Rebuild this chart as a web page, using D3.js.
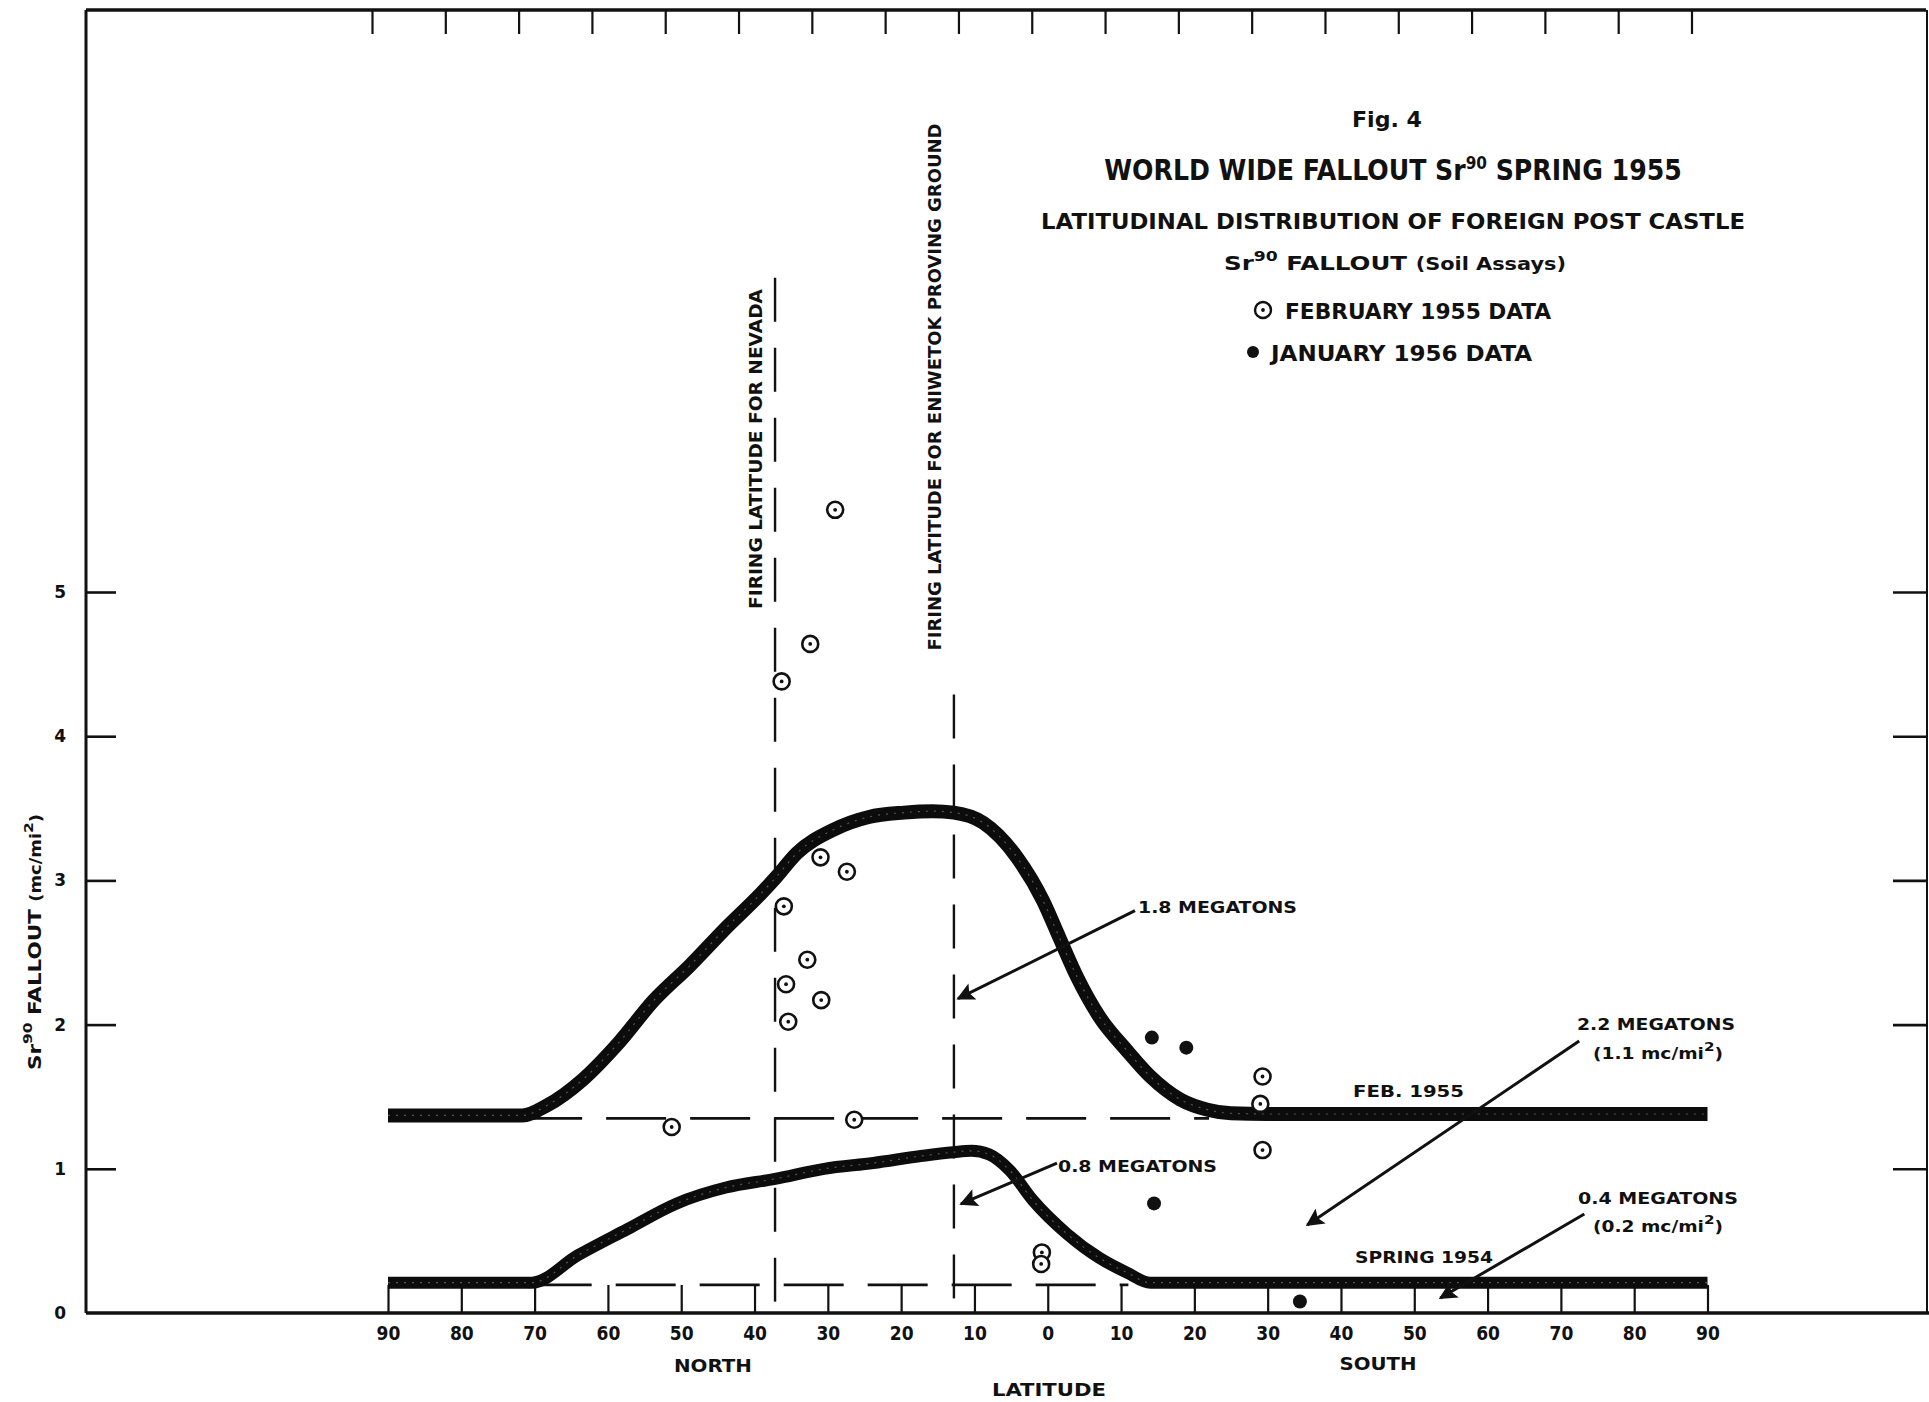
<!DOCTYPE html>
<html>
<head>
<meta charset="utf-8">
<script src="https://cdn.jsdelivr.net/npm/d3@7"></script>
<style>
body{margin:0;background:#fff}
svg{display:block}
text{font-family:"DejaVu Sans",sans-serif;font-weight:bold;fill:#111}
.narrow{font-family:"Liberation Sans Narrow","DejaVu Sans Condensed",sans-serif}
</style>
</head>
<body>
<div id="plot"></div>
<script>
/* latitude is signed: north positive, south negative */
var latTicks = [90,80,70,60,50,40,30,20,10,0,-10,-20,-30,-40,-50,-60,-70,-80,-90];
var valueTicks = [0,1,2,3,4,5];

// 1.8 megaton curve (Feb 1955)
var curve18Lat = [90,71.7,68.3,63.4,58.6,53.7,48.8,43.9,39.1,37.1,34.2,29.3,24.4,19.6,15.7,12.8,8.8,4.2,0.65,-1.7,-4.0,-7.1,-10.8,-14.0,-18.1,-21.8,-25.0,-30.0,-90];
var curve18Val = [1.37,1.37,1.44,1.62,1.87,2.17,2.41,2.67,2.91,3.02,3.19,3.35,3.44,3.47,3.48,3.47,3.40,3.16,2.86,2.59,2.33,2.05,1.82,1.64,1.48,1.41,1.385,1.38,1.38];

// 0.8 megaton curve (Spring 1954)
var curve08Lat = [90,70.4,64.1,57.4,50.6,43.9,37.2,30.5,23.8,17.1,12.9,10.4,8.0,5.2,2.0,-2.6,-7.1,-10.8,-14.0,-90];
var curve08Val = [0.21,0.21,0.40,0.58,0.76,0.87,0.93,1.00,1.04,1.09,1.115,1.125,1.10,0.99,0.78,0.55,0.38,0.28,0.21,0.21];

// soil assays
var feb55Lat = [29.0,32.4,36.3,31.0,27.4,36.0,32.8,35.7,30.9,35.4,51.3,26.4,0.8,0.9,-29.3,-29.0,-29.3];
var feb55Val = [5.57,4.64,4.38,3.16,3.06,2.82,2.45,2.28,2.17,2.02,1.29,1.34,0.42,0.34,1.64,1.45,1.13];
var jan56Lat = [-14.2,-18.9,-14.5,-34.4];
var jan56Val = [1.91,1.84,0.76,0.08];

// firing latitudes
var firingNames = ["FIRING LATITUDE FOR NEVADA","FIRING LATITUDE FOR ENIWETOK PROVING GROUND"];
var firingLat = [37.2,12.8];
var firingTop = [7.18,4.29];

// dashed baselines
var baseVal = [1.35,0.195];
var baseFrom = [71.7,70.4];
var baseTo = [-22.0,-11.0];

// arrows [fromLat, fromVal, toLat, toVal]
var arrowFromLat = [-11.9,-1.26,-72.5,-73.2];
var arrowFromVal = [2.79,1.04,1.886,0.687];
var arrowToLat = [12.25,11.84,-35.4,-53.55];
var arrowToVal = [2.18,0.756,0.61,0.104];

var W = 1929, H = 1402;
var axisX = 86, axisY = 1313;

var svg = d3.select('#plot').append('svg')
    .attr('width',W).attr('height',H);

var x = d3.scaleLinear().domain([90,-90]).range([388,1707.5]);
var y = d3.scaleLinear().domain([0,5]).range([1313,592]);

var ink = '#111';

// frame
svg.append('line').attr('x1',axisX).attr('y1',10).attr('x2',1926).attr('y2',10)
    .attr('stroke',ink).attr('stroke-width',3.5);
svg.append('line').attr('x1',axisX).attr('y1',10).attr('x2',axisX).attr('y2',axisY)
    .attr('stroke',ink).attr('stroke-width',3);
svg.append('line').attr('x1',1927).attr('y1',10).attr('x2',1927).attr('y2',axisY)
    .attr('stroke',ink).attr('stroke-width',2);
svg.append('line').attr('x1',axisX).attr('y1',axisY).attr('x2',W).attr('y2',axisY)
    .attr('stroke',ink).attr('stroke-width',3.5);

// top ticks (hanging down from frame)
var topAxis = svg.append('g').attr('transform','translate(-16,10)')
    .call(d3.axisTop(x).tickValues(latTicks).tickSize(-24).tickFormat(''));
topAxis.select('.domain').remove();
topAxis.selectAll('line').attr('stroke',ink).attr('stroke-width',2.2);

// bottom axis
var xAxis = svg.append('g').attr('transform','translate(0,'+axisY+')')
    .call(d3.axisBottom(x).tickValues(latTicks).tickSize(-28).tickPadding(14)
        .tickFormat(function(d){return Math.abs(d);}));
xAxis.select('.domain').remove();
xAxis.selectAll('line').attr('stroke',ink).attr('stroke-width',2.2);
xAxis.selectAll('text').attr('class','narrow').style('font-size','19px')
    .style('font-weight','bold').attr('fill',ink);

// left axis
var yAxis = svg.append('g').attr('transform','translate('+axisX+',0)')
    .call(d3.axisLeft(y).tickValues(valueTicks).tickSize(-30).tickPadding(20)
        .tickFormat(d3.format('d')));
yAxis.select('.domain').remove();
yAxis.selectAll('line').attr('stroke',ink).attr('stroke-width',2.6)
    .attr('x1',0);
yAxis.selectAll('line').filter(function(d){return d===0;}).remove();
yAxis.selectAll('text').style('font-size','17px').style('font-weight','bold')
    .style('font-family','DejaVu Sans').attr('fill',ink);

// right ticks
var rAxis = svg.append('g').attr('transform','translate(1927,0)')
    .call(d3.axisRight(y).tickValues(valueTicks.slice(1)).tickSize(-34).tickFormat(''));
rAxis.select('.domain').remove();
rAxis.selectAll('line').attr('stroke',ink).attr('stroke-width',2.6);

// firing latitude lines
firingLat.forEach(function(lat,i){
    svg.append('line')
        .attr('x1',x(lat)).attr('x2',x(lat))
        .attr('y1',y(firingTop[i])).attr('y2',axisY)
        .attr('stroke',ink).attr('stroke-width',2.4)
        .attr('stroke-dasharray','44,26');
});

// dashed baselines
baseVal.forEach(function(v,i){
    svg.append('line')
        .attr('x1',x(baseFrom[i])).attr('x2',x(baseTo[i]))
        .attr('y1',y(v)).attr('y2',y(v))
        .attr('stroke',ink).attr('stroke-width',2.6)
        .attr('stroke-dasharray','60,24');
});

// bands
var line = d3.line()
    .x(function(d){return x(d[0]);})
    .y(function(d){return y(d[1]);})
    .curve(d3.curveMonotoneX);

[[curve18Lat,curve18Val,14],[curve08Lat,curve08Val,12]].forEach(function(c){
    var pts = d3.zip(c[0],c[1]);
    svg.append('path').attr('d',line(pts)).attr('fill','none')
        .attr('stroke','#0c0c0c').attr('stroke-width',c[2])
        .attr('stroke-linejoin','round');
    svg.append('path').attr('d',line(pts)).attr('fill','none')
        .attr('stroke','#fff').attr('stroke-opacity',0.3)
        .attr('stroke-width',1.2).attr('stroke-dasharray','2,6');
});

// arrows
svg.append('defs').append('marker')
    .attr('id','head').attr('viewBox','0 0 10 10')
    .attr('refX',9).attr('refY',5)
    .attr('markerWidth',7).attr('markerHeight',6)
    .attr('markerUnits','strokeWidth')
    .attr('orient','auto')
    .append('path').attr('d','M0,0 L10,5 L0,10 L2,5 Z').attr('fill',ink);

arrowFromLat.forEach(function(l,i){
    svg.append('line')
        .attr('x1',x(l)).attr('y1',y(arrowFromVal[i]))
        .attr('x2',x(arrowToLat[i])).attr('y2',y(arrowToVal[i]))
        .attr('stroke',ink).attr('stroke-width',3)
        .attr('marker-end','url(#head)');
});

// data points
svg.selectAll('.feb').data(d3.zip(feb55Lat,feb55Val)).enter()
    .append('circle').attr('class','feb')
    .attr('cx',function(d){return x(d[0]);})
    .attr('cy',function(d){return y(d[1]);})
    .attr('r',8).attr('fill','#fff').attr('stroke',ink).attr('stroke-width',2.6);
svg.selectAll('.febdot').data(d3.zip(feb55Lat,feb55Val)).enter()
    .append('circle').attr('class','febdot')
    .attr('cx',function(d){return x(d[0]);})
    .attr('cy',function(d){return y(d[1]);})
    .attr('r',1.9).attr('fill',ink);
svg.selectAll('.jan').data(d3.zip(jan56Lat,jan56Val)).enter()
    .append('circle').attr('class','jan')
    .attr('cx',function(d){return x(d[0]);})
    .attr('cy',function(d){return y(d[1]);})
    .attr('r',7).attr('fill',ink);

// helper for plain text
function label(tx,px,py,size,len,anchor,cls){
    var t = svg.append('text').attr('x',px).attr('y',py)
        .style('font-size',size+'px').attr('text-anchor',anchor||'start').text(tx);
    if(len) t.attr('textLength',len).attr('lengthAdjust','spacingAndGlyphs');
    if(cls) t.attr('class',cls);
    return t;
}

// firing labels (rotated)
var firingPos = [[762,449,320],[941,387,527]];
firingNames.forEach(function(n,i){
    svg.append('text')
        .attr('transform','translate('+firingPos[i][0]+','+firingPos[i][1]+') rotate(-90)')
        .attr('text-anchor','middle')
        .style('font-size','17px')
        .attr('textLength',firingPos[i][2]).attr('lengthAdjust','spacingAndGlyphs')
        .text(n);
});

// title block
label('Fig. 4',1387,127,21,70,'middle');
var t2 = svg.append('text').attr('class','narrow').attr('x',1393).attr('y',180)
    .attr('text-anchor','middle').style('font-size','28px');
t2.append('tspan').text('WORLD WIDE FALLOUT Sr');
t2.append('tspan').attr('dy',-11).style('font-size','17px').text('90');
t2.append('tspan').attr('dy',11).text(' SPRING 1955');

label('LATITUDINAL DISTRIBUTION OF FOREIGN POST CASTLE',1393,229,21,704,'middle');

var t4 = svg.append('text').attr('x',1395).attr('y',270)
    .attr('text-anchor','middle').style('font-size','20px')
    .attr('textLength',342).attr('lengthAdjust','spacingAndGlyphs');
t4.append('tspan').text('Sr');
t4.append('tspan').attr('dy',-9).style('font-size','14px').text('90');
t4.append('tspan').attr('dy',9).text(' FALLOUT ');
t4.append('tspan').style('font-size','17px').text('(Soil Assays)');

// legend
svg.append('circle').attr('cx',1263).attr('cy',310).attr('r',8)
    .attr('fill','#fff').attr('stroke',ink).attr('stroke-width',2.4);
svg.append('circle').attr('cx',1263).attr('cy',310).attr('r',1.9).attr('fill',ink);
label('FEBRUARY 1955 DATA',1285,319,21,266,'start','narrow');
svg.append('circle').attr('cx',1253).attr('cy',352).attr('r',6).attr('fill',ink);
label('JANUARY 1956 DATA',1271,361,21,261,'start','narrow');

// axis titles
label('NORTH',713,1372,18,78,'middle','narrow');
label('SOUTH',1378,1370,18,77,'middle','narrow');
label('LATITUDE',1049,1396,18,114,'middle','narrow');

var yt = svg.append('text')
    .attr('transform','translate(41,942) rotate(-90)')
    .attr('text-anchor','middle').style('font-size','18px')
    .attr('textLength',256).attr('lengthAdjust','spacingAndGlyphs');
yt.append('tspan').text('Sr');
yt.append('tspan').attr('dy',-9).style('font-size','13px').text('90');
yt.append('tspan').attr('dy',9).text(' FALLOUT ');
yt.append('tspan').style('font-size','15px').text('(mc/mi');
yt.append('tspan').attr('dy',-8).style('font-size','13px').text('2');
yt.append('tspan').attr('dy',8).style('font-size','15px').text(')');

// annotations
label('1.8 MEGATONS',1138,913,16,159);
label('0.8 MEGATONS',1058,1172,16,159);
label('2.2 MEGATONS',1577,1030,16,158);
label('FEB. 1955',1353,1097,16,111);
label('0.4 MEGATONS',1578,1204,16,160);
label('SPRING 1954',1355,1263,16,138);

function paren(tx,px,py){
    var t = svg.append('text').attr('x',px).attr('y',py).style('font-size','16px')
        .attr('textLength',130).attr('lengthAdjust','spacingAndGlyphs');
    t.append('tspan').text(tx);
    t.append('tspan').attr('dy',-8).style('font-size','13px').text('2');
    t.append('tspan').attr('dy',8).text(')');
}
paren('(1.1 mc/mi',1593,1059);
paren('(0.2 mc/mi',1593,1232);
</script>
</body>
</html>
